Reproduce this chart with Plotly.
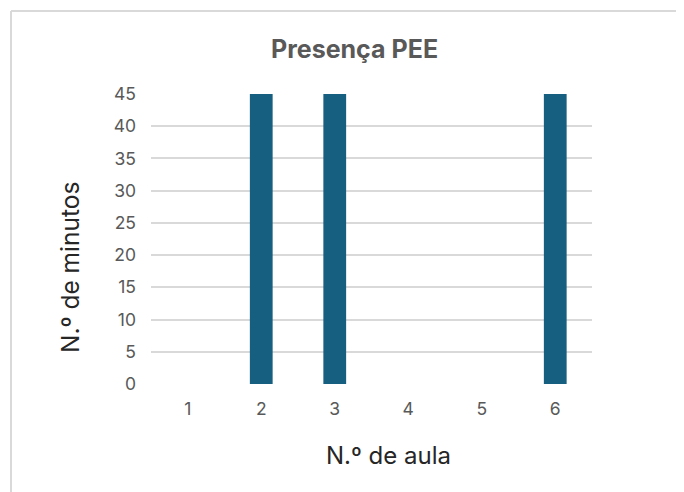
import plotly.graph_objects as go

categories = ["1", "2", "3", "4", "5", "6"]
minutes = [0, 45, 45, 0, 0, 45]
y_ticks = [0, 5, 10, 15, 20, 25, 30, 35, 40, 45]

W, H = 684, 492
OFF = 8  # page body offset
# desired on-screen plot area
SL, SR, ST, SB = 151, 592, 94, 384
L = SL - OFF
T = ST - OFF
R = W - (SR - OFF)
B = H - (SB - OFF)
pw, ph = SR - SL, SB - ST

def px(x):
    return (x - SL) / pw

def py(y):
    return (SB - y) / ph

FONT = "Inter, Roboto, Arial, sans-serif"

fig = go.Figure(go.Bar(
    x=categories, y=minutes, width=0.31,
    marker=dict(color="#175f80", line=dict(width=0)),
))

fig.update_layout(
    width=W, height=H,
    margin=dict(l=L, r=R, t=T, b=B),
    paper_bgcolor="white", plot_bgcolor="white",
    showlegend=False,
    font=dict(family=FONT, color="#595959", size=17),
    xaxis=dict(type="category", showgrid=False, showline=False, zeroline=False,
               tickfont=dict(size=17.5, color="#595959"), ticks="", ticklabelstandoff=12),
    yaxis=dict(range=[0, 45], tickvals=y_ticks, showgrid=True, gridcolor="#d9d9d9",
               gridwidth=1.6, zeroline=False, showline=False, ticks="",
               tickfont=dict(size=17.5, color="#595959"), ticklabelstandoff=14),
    shapes=[
        dict(type="line", xref="paper", yref="paper", x0=px(11), x1=px(720), y0=py(11), y1=py(11),
             line=dict(color="#d9d9d9", width=2)),
        dict(type="line", xref="paper", yref="paper", x0=px(11), x1=px(11), y0=py(11), y1=py(520),
             line=dict(color="#d9d9d9", width=2)),
    ],
    annotations=[
        dict(text="<b>Presença PEE</b>", xref="paper", yref="paper", x=px(354), y=py(49),
             showarrow=False, font=dict(size=25, color="#595959", family=FONT),
             xanchor="center", yanchor="middle"),
        dict(text="N.º de minutos", xref="paper", yref="paper", x=px(70), y=py(268),
             showarrow=False, textangle=-90, font=dict(size=24.5, color="#262626", family=FONT),
             xanchor="center", yanchor="middle"),
        dict(text="N.º de aula", xref="paper", yref="paper", x=px(388), y=py(455),
             showarrow=False, font=dict(size=24, color="#262626", family=FONT),
             xanchor="center", yanchor="middle"),
    ],
)

fig.write_html("out.html")
